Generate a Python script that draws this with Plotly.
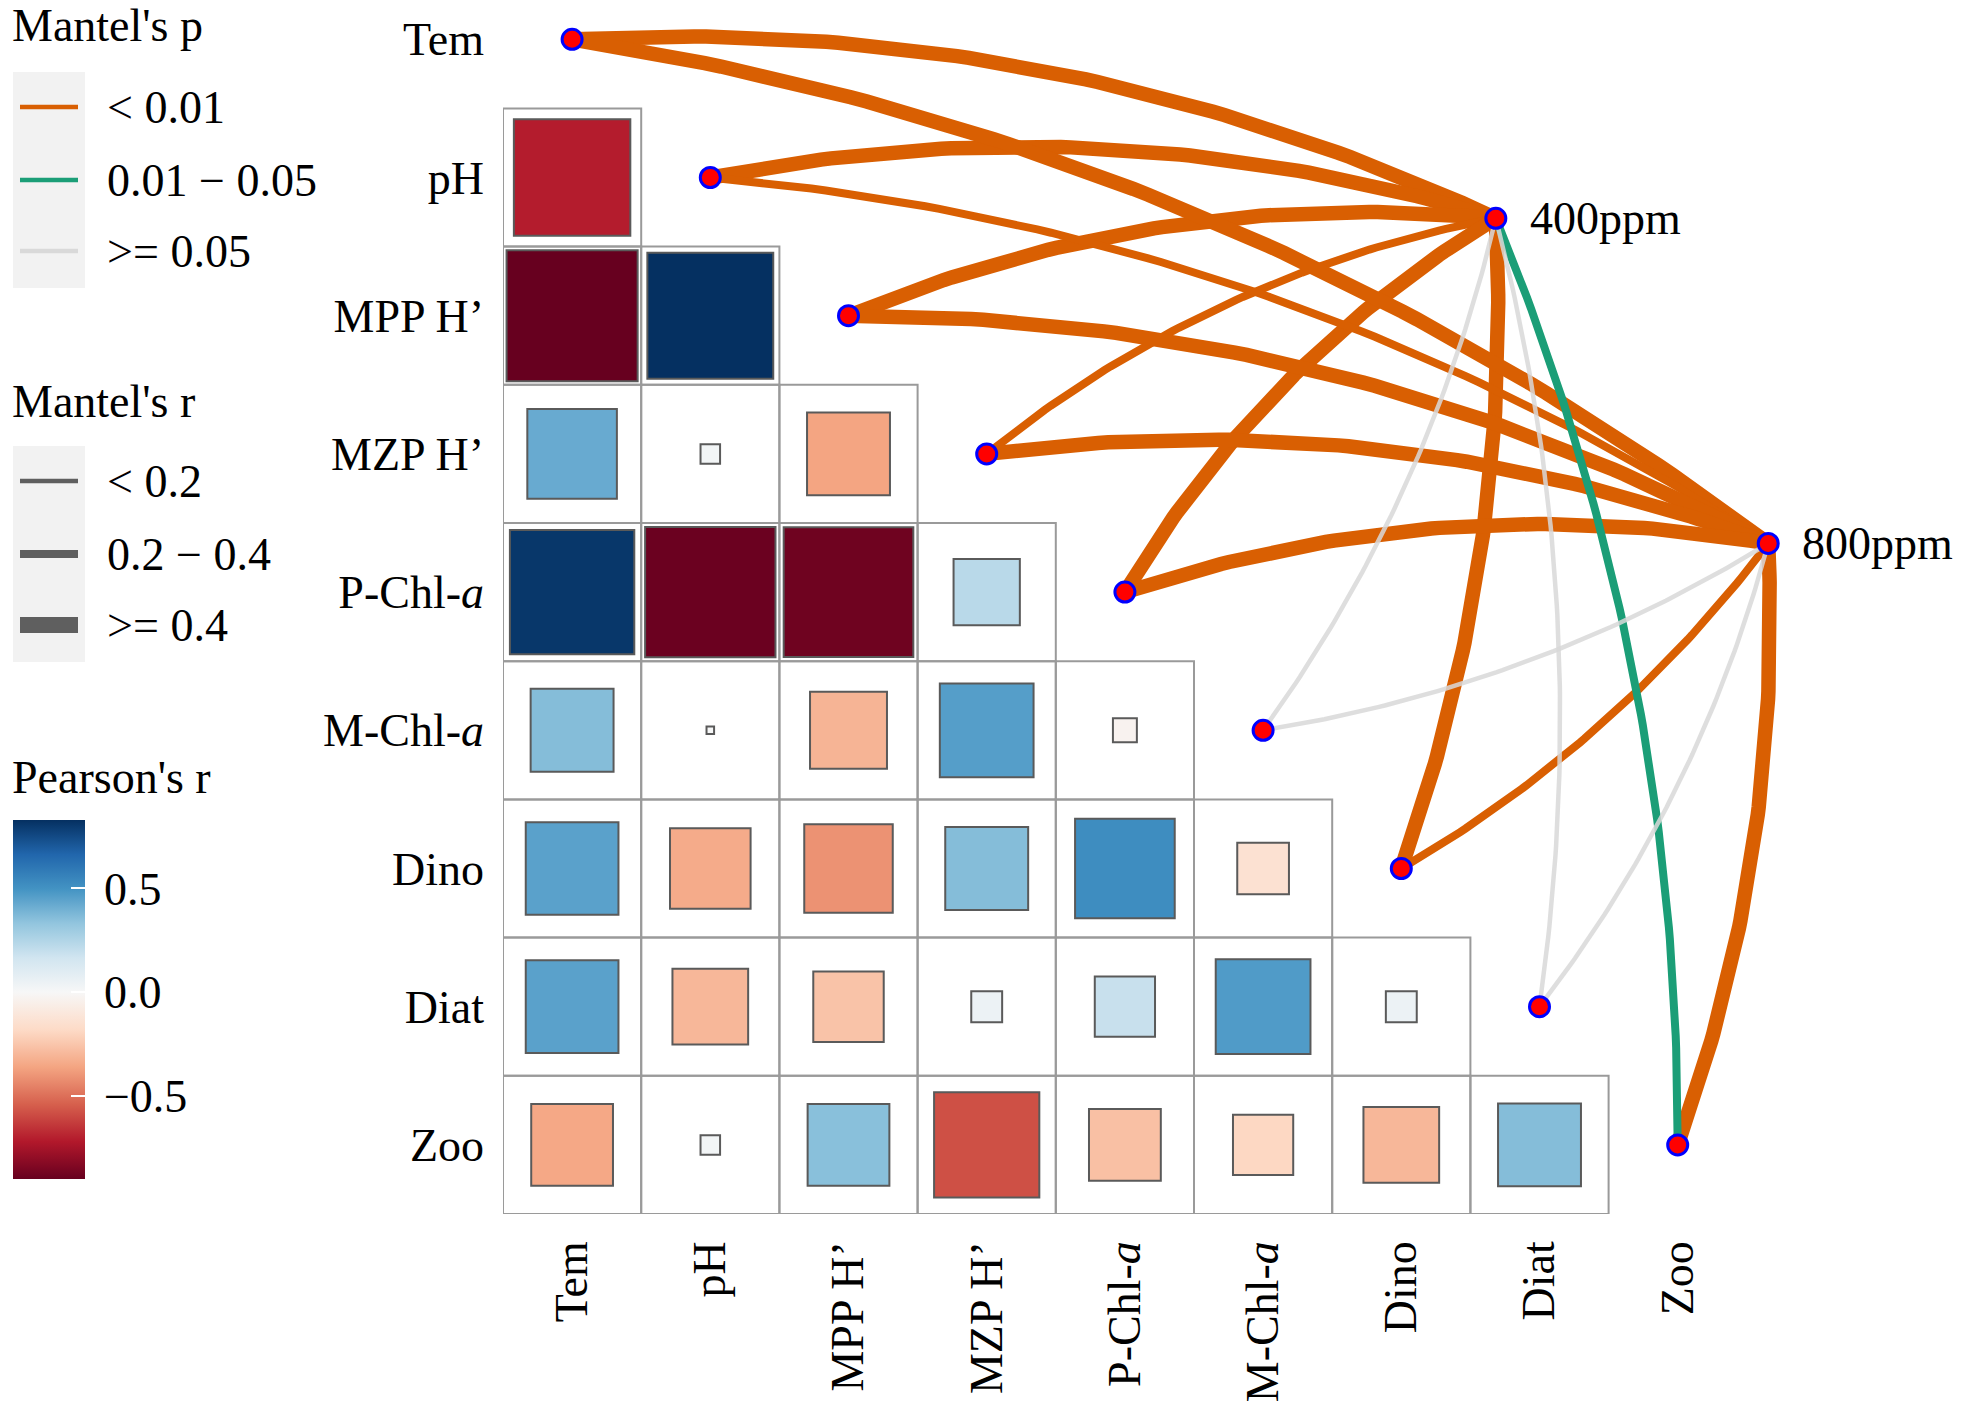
import numpy as np
import plotly.graph_objects as go

# ---------------- data ----------------
variables = ["Tem", "pH", "MPP H’", "MZP H’", "P-Chl-a", "M-Chl-a", "Dino", "Diat", "Zoo"]
var_labels = ["Tem", "pH", "MPP H’", "MZP H’", "P-Chl-<i>a</i>", "M-Chl-<i>a</i>", "Dino", "Diat", "Zoo"]

# Pearson's r, lower triangle: row i holds correlations with columns 0..i-1
pearson_rows = [
    [],
    [-0.71],
    [-0.90, 0.83],
    [0.42, 0.02, -0.36],
    [0.81, -0.89, -0.88, 0.23],
    [0.36, 0.003, -0.31, 0.46, -0.03],
    [0.45, -0.34, -0.41, 0.36, 0.52, -0.14],
    [0.45, -0.30, -0.26, 0.05, 0.19, 0.47, 0.05],
    [-0.35, 0.02, 0.35, -0.58, -0.27, -0.19, -0.30, 0.36],
]

env_names = ["400ppm", "800ppm"]
p_levels = ["< 0.01", "0.01 − 0.05", ">= 0.05"]
r_levels = ["< 0.2", "0.2 − 0.4", ">= 0.4"]

mantel_p_400 = ["< 0.01", "< 0.01", "< 0.01", "< 0.01", "< 0.01", ">= 0.05", "< 0.01", ">= 0.05", "0.01 − 0.05"]
mantel_r_400 = [">= 0.4", ">= 0.4", ">= 0.4", "0.2 − 0.4", ">= 0.4", "< 0.2", ">= 0.4", "< 0.2", "0.2 − 0.4"]
mantel_p_800 = ["< 0.01", "< 0.01", "< 0.01", "< 0.01", "< 0.01", ">= 0.05", "< 0.01", ">= 0.05", "< 0.01"]
mantel_r_800 = [">= 0.4", "0.2 − 0.4", ">= 0.4", ">= 0.4", ">= 0.4", "< 0.2", "0.2 − 0.4", "< 0.2", ">= 0.4"]

# ---------------- styles / layout constants ----------------
W, H = 1969, 1415
CELL = 138.2          # px per data unit
PL, PB = 503, 1214    # plot area left edge, bottom edge (px from top)
FONT = "Liberation Serif"
FS = 46

p_colors = {"< 0.01": "#D95F02", "0.01 − 0.05": "#1B9E77", ">= 0.05": "#D9D9D9"}
r_widths = {"< 0.2": 4.5, "0.2 − 0.4": 8, ">= 0.4": 14.5}
legend_r_widths = {"< 0.2": 4.5, "0.2 − 0.4": 8, ">= 0.4": 16}
env_pos = {"400ppm": (6.684, -1.295), "800ppm": (8.655, -3.648)}
CURV_UPPER, CURV_LOWER = 0.125, -0.10
rdbu = ["#67001F", "#B2182B", "#D6604D", "#F4A582", "#FDDBC7", "#F7F7F7",
        "#D1E5F0", "#92C5DE", "#4393C3", "#2166AC", "#053061"]


def xp(px):
    return (px - PL) / (W - PL)


def yp(py):
    return (PB - py) / PB


n = len(variables)
var_x = np.arange(n, dtype=float)
var_y = -np.arange(n, dtype=float)

fig = go.Figure()

# ---------------- curves (Mantel links) ----------------
edges = []
for env, plist, rlist in [("400ppm", mantel_p_400, mantel_r_400), ("800ppm", mantel_p_800, mantel_r_800)]:
    for i in range(n):
        edges.append((i, env, plist[i], rlist[i]))
edges.sort(key=lambda e: p_levels.index(e[2]))

mean_y = var_y.mean()
for i, env, pc, rc in edges:
    p0 = np.array([var_x[i], var_y[i]])
    p2 = np.array(env_pos[env])
    d = p2 - p0
    normal = np.array([-d[1], d[0]])
    k = CURV_UPPER if var_y[i] >= mean_y else CURV_LOWER
    ctrl = (p0 + p2) / 2 + k * normal
    t = np.linspace(0, 1, 80)[:, None]
    pts = (1 - t) ** 2 * p0 + 2 * t * (1 - t) * ctrl + t ** 2 * p2
    fig.add_trace(go.Scatter(
        x=pts[:, 0], y=pts[:, 1], mode="lines",
        line=dict(color=p_colors[pc], width=r_widths[rc]),
        opacity=0.85 if pc == ">= 0.05" else 1.0,
        hoverinfo="skip", showlegend=False))

# ---------------- correlation squares ----------------
sx, sy, sr = [], [], []
for i, row in enumerate(pearson_rows):
    for j, r in enumerate(row):
        sx.append(var_x[j])
        sy.append(var_y[i])
        sr.append(r)
sr = np.array(sr)
cmin, cmax = float(sr.min()), float(sr.max())
mid = -cmin / (cmax - cmin)
colorscale = [[mid * k / 5, rdbu[k]] for k in range(6)] + \
             [[mid + (1 - mid) * k / 5, rdbu[5 + k]] for k in range(1, 6)]

# cell borders
for i, row in enumerate(pearson_rows):
    for j in range(len(row)):
        fig.add_shape(type="rect", xref="x", yref="y",
                      x0=var_x[j] - 0.5, x1=var_x[j] + 0.5,
                      y0=var_y[i] - 0.5, y1=var_y[i] + 0.5,
                      line=dict(color="#9A9A9A", width=2), fillcolor="rgba(0,0,0,0)",
                      layer="below")

BAR_TOP, BAR_LEN, BAR_LEFT, BAR_W = 820, 359, 13, 72
fig.add_trace(go.Scatter(
    x=sx, y=sy, mode="markers", hoverinfo="skip", showlegend=False,
    marker=dict(symbol="square", size=np.sqrt(np.abs(sr)) * CELL, opacity=1,
                color=sr, cmin=cmin, cmax=cmax, colorscale=colorscale,
                line=dict(color="#5A5A5A", width=2),
                colorbar=dict(
                    xref="paper", yref="paper",
                    x=xp(BAR_LEFT), xanchor="left",
                    y=yp(BAR_TOP), yanchor="top",
                    len=BAR_LEN, lenmode="pixels",
                    thickness=BAR_W, thicknessmode="pixels",
                    xpad=0, ypad=0, outlinewidth=0,
                    tickvals=[-0.5, 0, 0.5],
                    ticktext=["\u2009−0.5", "\u20090.0", "\u20090.5"],
                    ticks="inside", ticklen=14, tickcolor="white", tickwidth=2,
                    tickfont=dict(family=FONT, size=FS, color="black"),
                    title=dict(text=""))),
    cliponaxis=False))

# left-side white ticks on the colorbar (mirroring ggplot)
for v in [-0.5, 0, 0.5]:
    py = BAR_TOP + (cmax - v) / (cmax - cmin) * BAR_LEN
    fig.add_shape(type="line", xref="paper", yref="paper",
                  x0=xp(BAR_LEFT), x1=xp(BAR_LEFT + 14), y0=yp(py), y1=yp(py),
                  line=dict(color="white", width=2), layer="above")

# ---------------- nodes ----------------
node_x = list(var_x) + [env_pos[e][0] for e in env_names]
node_y = list(var_y) + [env_pos[e][1] for e in env_names]
fig.add_trace(go.Scatter(
    x=node_x, y=node_y, mode="markers", hoverinfo="skip", showlegend=False,
    marker=dict(size=20, color="#FF0000", opacity=1, line=dict(color="#0000FF", width=3)),
    cliponaxis=False))

for e in env_names:
    fig.add_annotation(x=env_pos[e][0], y=env_pos[e][1], xref="x", yref="y",
                       text=e, showarrow=False, xanchor="left", yanchor="middle",
                       xshift=32, font=dict(family=FONT, size=FS, color="black"))

# ---------------- manual legends ----------------
def legend_block(title, title_y, box_top, box_bot, keys):
    fig.add_annotation(x=xp(10), y=yp(title_y), xref="paper", yref="paper",
                       text=title, showarrow=False, xanchor="left", yanchor="middle",
                       font=dict(family=FONT, size=FS, color="black"))
    fig.add_shape(type="rect", xref="paper", yref="paper",
                  x0=xp(13), x1=xp(85), y0=yp(box_bot), y1=yp(box_top),
                  fillcolor="#F2F2F2", line=dict(width=0), layer="below")
    for ky, label, color, width in keys:
        fig.add_shape(type="line", xref="paper", yref="paper",
                      x0=xp(20), x1=xp(78), y0=yp(ky), y1=yp(ky),
                      line=dict(color=color, width=width))
        fig.add_annotation(x=xp(105), y=yp(ky), xref="paper", yref="paper",
                           text=label, showarrow=False, xanchor="left", yanchor="middle",
                           font=dict(family=FONT, size=FS, color="black"))


legend_block("Mantel's p", 26, 72, 288,
             [(107, p_levels[0], p_colors[p_levels[0]], 4.5),
              (180, p_levels[1], p_colors[p_levels[1]], 4.5),
              (251, p_levels[2], p_colors[p_levels[2]], 4.5)])
legend_block("Mantel's r", 401, 446, 662,
             [(481, r_levels[0], "#5F5F5F", legend_r_widths[r_levels[0]]),
              (554, r_levels[1], "#5F5F5F", legend_r_widths[r_levels[1]]),
              (625, r_levels[2], "#5F5F5F", legend_r_widths[r_levels[2]])])
fig.add_annotation(x=xp(10), y=yp(778), xref="paper", yref="paper",
                   text="Pearson's r", showarrow=False, xanchor="left", yanchor="middle",
                   font=dict(family=FONT, size=FS, color="black"))

# ---------------- axes / layout ----------------
fig.update_xaxes(range=[-0.5, -0.5 + (W - PL) / CELL], tickvals=list(var_x), ticktext=var_labels,
                 tickangle=-90, showgrid=False, zeroline=False, showline=False, ticks="",
                 ticklabelstandoff=17,
                 tickfont=dict(family=FONT, size=FS, color="black"))
fig.update_yaxes(range=[-8.5, -8.5 + PB / CELL], tickvals=list(var_y), ticktext=var_labels,
                 showgrid=False, zeroline=False, showline=False, ticks="",
                 ticklabelstandoff=18,
                 tickfont=dict(family=FONT, size=FS, color="black"))
fig.update_layout(width=W, height=H, margin=dict(l=PL, r=0, t=0, b=H - PB, autoexpand=False),
                  plot_bgcolor="white", paper_bgcolor="white",
                  font=dict(family=FONT, size=FS, color="black"))

fig.write_html("out.html", config={"displayModeBar": False},
               post_script="document.body.style.margin='0px';document.body.style.overflow='hidden';")
